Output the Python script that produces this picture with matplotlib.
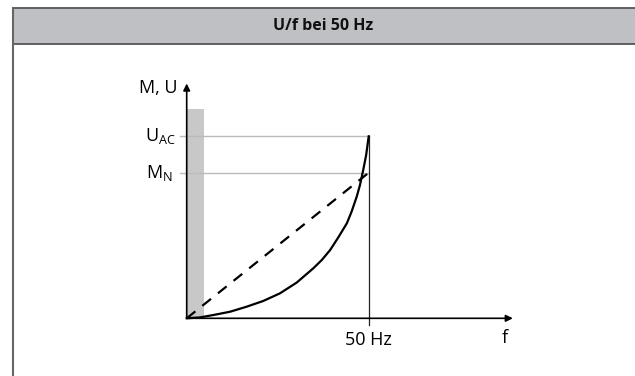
import numpy as np
import matplotlib.pyplot as plt
from matplotlib.patches import Rectangle

plt.rcParams['font.family'] = ['Open Sans', 'DejaVu Sans']

# curve U(f) (U_AC = 1)
f_curve = [0, 3.65, 7.3, 11.9, 16.5, 21.0, 25.6, 30.2, 34.8, 37.1, 39.4,
           41.6, 44.0, 45.3, 46.7, 47.6, 48.5, 49.3, 50]
u_curve = [0, 0.005, 0.018, 0.036, 0.064, 0.095, 0.137, 0.196, 0.275, 0.320,
           0.375, 0.443, 0.522, 0.586, 0.668, 0.732, 0.815, 0.897, 1.0]

# torque line (dashed)
f_torque = [0, 50]
m_torque = [0, 0.8]

f_nom = 50
u_ac = 1.0
m_n = 0.8
boost_f = 4.75
boost_h = 1.15

title = 'U/f bei 50 Hz'

W, H = 635, 376
fig = plt.figure(figsize=(W / 100, H / 100), dpi=100)

# frame / header in pixel coordinates
frame = fig.add_axes([0, 0, 1, 1])
frame.set_xlim(0, W)
frame.set_ylim(H, 0)
frame.axis('off')
frame.add_patch(Rectangle((12.5, 7.5), W, 36, facecolor='#bfc0c4',
                          edgecolor='#555555', lw=1.3))
frame.plot([12.5, 12.5], [7.5, H], color='#666666', lw=1.5)
frame.text(323, 26, title, ha='center', va='center', fontsize=11.5,
           fontweight='bold', color='#111111')

# chart axes: data coordinates
xmin, xmax = -15, 95
ymin, ymax = -0.2, 1.35
pxf = 3.64   # px per Hz
pxu = 182    # px per unit
left = 186.7 + xmin * pxf
bottom = 318.3 - ymin * pxu
ax = fig.add_axes([left / W, (H - bottom) / H,
                   (xmax - xmin) * pxf / W, (ymax - ymin) * pxu / H])
ax.set_xlim(xmin, xmax)
ax.set_ylim(ymin, ymax)
ax.axis('off')

# boost region
ax.add_patch(Rectangle((0, 0), boost_f, boost_h, facecolor='#c8c8c8',
                       edgecolor='none', zorder=1))

# guide lines
ax.plot([-1.8, f_nom], [u_ac, u_ac], color='#bbbbbb', lw=1, zorder=2)
ax.plot([-1.8, f_nom], [m_n, m_n], color='#bbbbbb', lw=1, zorder=2)
ax.plot([f_nom, f_nom], [-0.035, u_ac], color='#222222', lw=0.9, zorder=2)

# axes with arrows
ax.annotate('', xy=(89.6, 0), xytext=(0, 0),
            arrowprops=dict(arrowstyle='-|>', color='black', lw=1.2,
                            mutation_scale=10, shrinkA=0, shrinkB=0))
ax.annotate('', xy=(0, 1.29), xytext=(0, 0),
            arrowprops=dict(arrowstyle='-|>', color='black', lw=1.2,
                            mutation_scale=10, shrinkA=0, shrinkB=0))

# curves
ax.plot(f_curve, u_curve, color='black', lw=1.6, zorder=3,
        solid_joinstyle='round')
ax.plot(f_torque, m_torque, color='black', lw=1.6, dashes=(5, 4), zorder=3)

# labels
fs = 13
ax.text(-2.6, 1.265, 'M, U', ha='right', va='center', fontsize=fs)
ax.text(-3, u_ac, r'U$_{\mathregular{AC}}$', ha='right', va='center', fontsize=fs)
ax.text(-3.8, m_n, r'M$_{\mathregular{N}}$', ha='right', va='center', fontsize=fs)
ax.text(f_nom, -0.12, '50 Hz', ha='center', va='center', fontsize=fs)
ax.text(87.5, -0.11, 'f', ha='center', va='center', fontsize=fs)

fig.savefig('out.png', dpi=100)
